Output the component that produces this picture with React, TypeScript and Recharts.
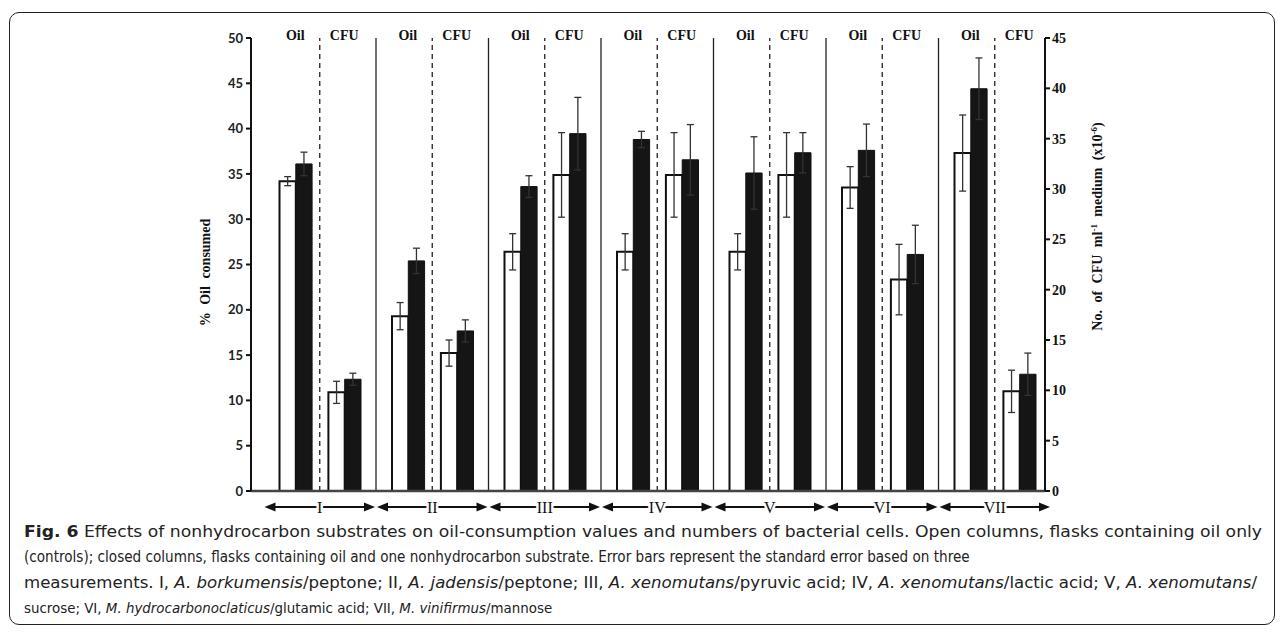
import React from 'react'
import { BarChart, Bar, XAxis, YAxis, ErrorBar, ReferenceLine } from 'recharts'

// groups I..VII, each has an "Oil" column (left axis) and a "CFU" column (right axis)
const groups = ['I', 'II', 'III', 'IV', 'V', 'VI', 'VII']
const columnLabels = ['Oil', 'CFU']

// % oil consumed (left axis)
const oilControl = [34.2, 19.3, 26.4, 26.4, 26.4, 33.5, 37.3]
const oilControlErr = [0.5, 1.5, 2.0, 2.0, 2.0, 2.3, 4.2]
const oilSubstrate = [36.1, 25.4, 33.6, 38.8, 35.1, 37.6, 44.4]
const oilSubstrateErr = [1.3, 1.4, 1.2, 0.9, 4.0, 2.9, 3.4]

// CFU ml-1 x10^-6 (right axis)
const cfuControl = [9.8, 13.7, 31.4, 31.4, 31.4, 21.0, 9.9]
const cfuControlErr = [1.1, 1.3, 4.2, 4.2, 4.2, 3.5, 2.1]
const cfuSubstrate = [11.1, 15.9, 35.5, 32.9, 33.6, 23.5, 11.6]
const cfuSubstrateErr = [0.6, 1.1, 3.6, 3.5, 2.0, 2.9, 2.1]

const leftTicks = [0, 5, 10, 15, 20, 25, 30, 35, 40, 45, 50]
const rightTicks = [0, 5, 10, 15, 20, 25, 30, 35, 40, 45]

const data = groups.map((group, i) => ({
  group,
  oilControl: oilControl[i],
  oilControlErr: oilControlErr[i],
  oilSubstrate: oilSubstrate[i],
  oilSubstrateErr: oilSubstrateErr[i],
  spacer: 0,
  cfuControl: cfuControl[i],
  cfuControlErr: cfuControlErr[i],
  cfuSubstrate: cfuSubstrate[i],
  cfuSubstrateErr: cfuSubstrateErr[i],
}))

const SERIF = '"Liberation Serif", "Times New Roman", serif'
const SANS = 'Lato, "Open Sans", sans-serif'
const CAPTION_FONT = '"Liberation Sans Narrow", "DejaVu Sans Condensed", "Open Sans", sans-serif'

const BAR = 16.3
const X_PADDING = { left: 12.5, right: -6 }

function ColumnHeads(props: any) {
  const { x, y } = props
  return (
    <g>
      {columnLabels.map((label, k) => (
        <text
          key={label}
          x={x + (k === 0 ? -1.5 : 1.5) * BAR}
          y={y + 2}
          textAnchor="middle"
          fontFamily={SERIF}
          fontWeight="bold"
          fontSize={14}
          fill="#111"
        >
          {label}
        </text>
      ))}
    </g>
  )
}

// double-headed arrow spanning the group's band, with the roman numeral in the middle
function GroupArrow(props: any) {
  const { x, y, payload } = props
  const half = payload && payload.offset ? payload.offset : 56.25
  const ay = y + 16
  const x0 = x - half + 1
  const x1 = x + half - 1
  return (
    <g>
      <line x1={x0 + 6} y1={ay} x2={x1 - 6} y2={ay} stroke="#111" strokeWidth={2} />
      <polygon points={`${x0},${ay} ${x0 + 11},${ay - 4.5} ${x0 + 11},${ay + 4.5}`} fill="#111" />
      <polygon points={`${x1},${ay} ${x1 - 11},${ay - 4.5} ${x1 - 11},${ay + 4.5}`} fill="#111" />
      <text
        x={x}
        y={ay + 5.5}
        textAnchor="middle"
        fontFamily={SERIF}
        fontSize={16}
        fill="#111"
        stroke="#fff"
        strokeWidth={5}
        paintOrder="stroke"
      >
        {payload.value}
      </text>
    </g>
  )
}

function OilAxisLabel(props: any) {
  const { x, y, height } = props.viewBox
  return (
    <text
      transform={`translate(${x + 20},${y + height / 2 + 8}) rotate(-90)`}
      textAnchor="middle"
      fontFamily={SERIF}
      fontWeight="bold"
      fontSize={14}
      wordSpacing={4}
      fill="#111"
    >
      % Oil consumed
    </text>
  )
}

function CfuAxisLabel(props: any) {
  const { x, y, height } = props.viewBox
  return (
    <text
      transform={`translate(${x + 57},${y + height / 2 - 38}) rotate(-90)`}
      textAnchor="middle"
      fontFamily={SERIF}
      fontWeight="bold"
      fontSize={14}
      wordSpacing={4}
      fill="#111"
    >
      No. of CFU ml
      <tspan baselineShift="super" fontSize={9}>-1</tspan>
      <tspan> medium (x10</tspan>
      <tspan baselineShift="super" fontSize={9}>-6</tspan>
      <tspan>)</tspan>
    </text>
  )
}

// end = right edge of the line in the reference (null: natural width at the given size)
const captionLines = [
  { end: 1262, size: 16.5, parts: [['b', 'Fig. 6'], ['', ' Effects of nonhydrocarbon substrates on oil-consumption values and numbers of bacterial cells. Open columns, flasks containing oil only']] },
  { end: null, size: 15.1, parts: [['', '(controls); closed columns, flasks containing oil and one nonhydrocarbon substrate. Error bars represent the standard error based on three']] },
  {
    end: 1257,
    size: 16.5,
    parts: [
      ['', 'measurements. I, '], ['i', 'A. borkumensis'], ['', '/peptone; II, '], ['i', 'A. jadensis'],
      ['', '/peptone; III, '], ['i', 'A. xenomutans'], ['', '/pyruvic acid; IV, '], ['i', 'A. xenomutans'],
      ['', '/lactic acid; V, '], ['i', 'A. xenomutans'], ['', '/'],
    ],
  },
  { end: null, size: 14.9, parts: [['', 'sucrose; VI, '], ['i', 'M. hydrocarbonoclaticus'], ['', '/glutamic acid; VII, '], ['i', 'M. vinifirmus'], ['', '/mannose']] },
]

function Caption() {
  return (
    <svg width={1282} height={100} style={{ position: 'absolute', left: 0, top: 518 }}>
      {captionLines.map((line, i) => (
        <text
          key={i}
          x={24}
          y={19 + i * 25.3}
          textLength={line.end ? line.end - 24 : undefined}
          lengthAdjust={line.end ? 'spacingAndGlyphs' : undefined}
          fontFamily={CAPTION_FONT}
          fontSize={line.size}
          fill="#222"
        >
          {line.parts.map(([kind, t], k) => (
            <tspan
              key={k}
              fontWeight={kind === 'b' ? 'bold' : 'normal'}
              fontStyle={kind === 'i' ? 'italic' : 'normal'}
              style={{ whiteSpace: 'pre' }}
            >
              {t}
            </tspan>
          ))}
        </text>
      ))}
    </svg>
  )
}

export default function App() {
  return (
    <div style={{ position: 'absolute', left: 0, top: 0, width: 1282, height: 632, background: '#fff' }}>
      <div
        style={{
          position: 'absolute',
          left: 9,
          top: 12,
          width: 1266,
          height: 613,
          border: '1.5px solid #222',
          borderRadius: 10,
          boxSizing: 'border-box',
        }}
      />
      <div style={{ position: 'absolute', left: 0, top: 0 }}>
        <BarChart
          width={1282}
          height={520}
          data={data}
          margin={{ top: 8, right: 177, bottom: 0, left: 190 }}
          barGap={0}
          barSize={BAR}
        >
          <XAxis
            dataKey="group"
            type="category"
            padding={X_PADDING}
            axisLine={{ stroke: '#444', strokeWidth: 2.5 }}
            tickLine={false}
            tickSize={0}
            tickMargin={0}
            height={29}
            interval={0}
            tick={<GroupArrow />}
          />
          <XAxis
            xAxisId="top"
            dataKey="group"
            type="category"
            orientation="top"
            padding={X_PADDING}
            axisLine={false}
            tickLine={false}
            tickSize={0}
            tickMargin={0}
            height={30}
            interval={0}
            tick={<ColumnHeads />}
          />
          <YAxis
            yAxisId="oil"
            domain={[0, 50]}
            ticks={leftTicks}
            width={61}
            interval={0}
            axisLine={{ stroke: '#111', strokeWidth: 2 }}
            tickLine={{ stroke: '#111', strokeWidth: 2 }}
            tickSize={5}
            tickMargin={3}
            tick={{ fontFamily: SANS, fontWeight: 'bold', fontSize: 13, fill: '#222' }}
            label={{ content: <OilAxisLabel /> }}
          />
          <YAxis
            yAxisId="cfu"
            orientation="right"
            domain={[0, 45]}
            ticks={rightTicks}
            width={60}
            interval={0}
            axisLine={{ stroke: '#111', strokeWidth: 2 }}
            tickLine={{ stroke: '#111', strokeWidth: 2 }}
            tickSize={5}
            tickMargin={2}
            tick={{ fontFamily: SERIF, fontWeight: 'bold', fontSize: 14, fill: '#111' }}
            label={{ content: <CfuAxisLabel /> }}
          />
          {groups.slice(0, -1).map((g) => (
            <ReferenceLine key={`s-${g}`} x={g} yAxisId="oil" position="end" stroke="#222" strokeWidth={1.3} />
          ))}
          {groups.map((g) => (
            <ReferenceLine key={`d-${g}`} x={g} yAxisId="oil" position="middle" stroke="#222" strokeWidth={1.3} strokeDasharray="5 4" />
          ))}
          <Bar yAxisId="oil" dataKey="oilControl" fill="#fff" stroke="#111" strokeWidth={2} isAnimationActive={false}>
            <ErrorBar dataKey="oilControlErr" width={3.5} stroke="#333" strokeWidth={1.3} isAnimationActive={false} />
          </Bar>
          <Bar yAxisId="oil" dataKey="oilSubstrate" fill="#151515" stroke="#111" strokeWidth={1} isAnimationActive={false}>
            <ErrorBar dataKey="oilSubstrateErr" width={3.5} stroke="#333" strokeWidth={1.3} isAnimationActive={false} />
          </Bar>
          <Bar yAxisId="oil" dataKey="spacer" fill="none" stroke="none" isAnimationActive={false} />
          <Bar yAxisId="cfu" dataKey="cfuControl" fill="#fff" stroke="#111" strokeWidth={2} isAnimationActive={false}>
            <ErrorBar dataKey="cfuControlErr" width={3.5} stroke="#333" strokeWidth={1.3} isAnimationActive={false} />
          </Bar>
          <Bar yAxisId="cfu" dataKey="cfuSubstrate" fill="#151515" stroke="#111" strokeWidth={1} isAnimationActive={false}>
            <ErrorBar dataKey="cfuSubstrateErr" width={3.5} stroke="#333" strokeWidth={1.3} isAnimationActive={false} />
          </Bar>
        </BarChart>
      </div>
      <Caption />
    </div>
  )
}
